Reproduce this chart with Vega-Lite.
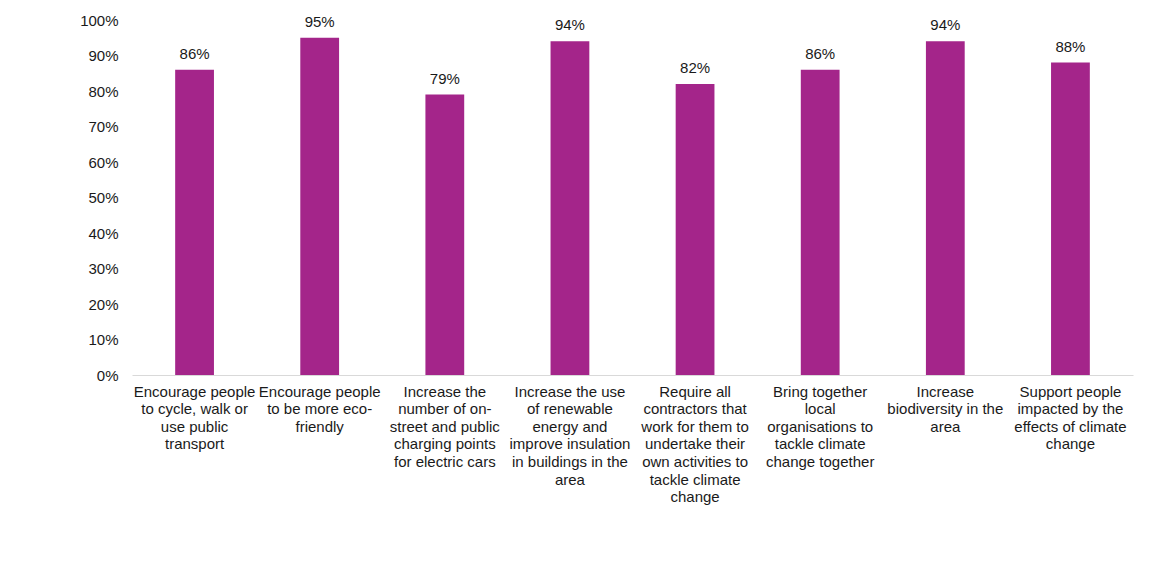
{
  "$schema": "https://vega.github.io/schema/vega-lite/v6.json",
  "width": 1001,
  "height": 355,
  "padding": {"left": 132, "top": 20, "right": 24, "bottom": 206},
  "autosize": {"type": "none"},
  "background": "white",
  "config": {
    "view": {"stroke": null},
    "font": "Liberation Sans",
    "axis": {"labelFont": "Liberation Sans", "labelFontSize": 15, "labelColor": "#1a1a1a"}
  },
  "data": {
    "values": [
      {"label": "Encourage people|to cycle, walk or|use public|transport", "value": 0.86},
      {"label": "Encourage people|to be more eco-|friendly", "value": 0.95},
      {"label": "Increase the|number of on-|street and public|charging points|for electric cars", "value": 0.79},
      {"label": "Increase the use|of renewable|energy and|improve insulation|in buildings in the|area", "value": 0.94},
      {"label": "Require all|contractors that|work for them to|undertake their|own activities to|tackle climate|change", "value": 0.82},
      {"label": "Bring together|local|organisations to|tackle climate|change together", "value": 0.86},
      {"label": "Increase|biodiversity in the|area", "value": 0.94},
      {"label": "Support people|impacted by the|effects of climate|change", "value": 0.88}
    ]
  },
  "encoding": {
    "x": {
      "field": "label",
      "type": "nominal",
      "sort": null,
      "title": null,
      "scale": {"paddingInner": 0.69, "paddingOuter": 0.345},
      "axis": {
        "labelAngle": 0,
        "labelExpr": "split(datum.label, '|')",
        "labelLimit": 0,
        "labelOverlap": false,
        "labelLineHeight": 17.6,
        "labelBaseline": "top",
        "labelPadding": 9,
        "ticks": false,
        "domainColor": "#d9d9d9",
        "domainWidth": 1.2
      }
    },
    "y": {
      "field": "value",
      "type": "quantitative",
      "title": null,
      "scale": {"domain": [0, 1]},
      "axis": {
        "format": ".0%",
        "values": [0, 0.1, 0.2, 0.3, 0.4, 0.5, 0.6, 0.7, 0.8, 0.9, 1],
        "grid": false,
        "domain": false,
        "ticks": false,
        "labelPadding": 14
      }
    }
  },
  "layer": [
    {"mark": {"type": "bar", "color": "#A4258A"}},
    {
      "mark": {"type": "text", "dy": -8, "baseline": "bottom", "fontSize": 15, "color": "#1a1a1a", "font": "Liberation Sans"},
      "encoding": {"text": {"field": "value", "type": "quantitative", "format": ".0%"}}
    }
  ]
}
